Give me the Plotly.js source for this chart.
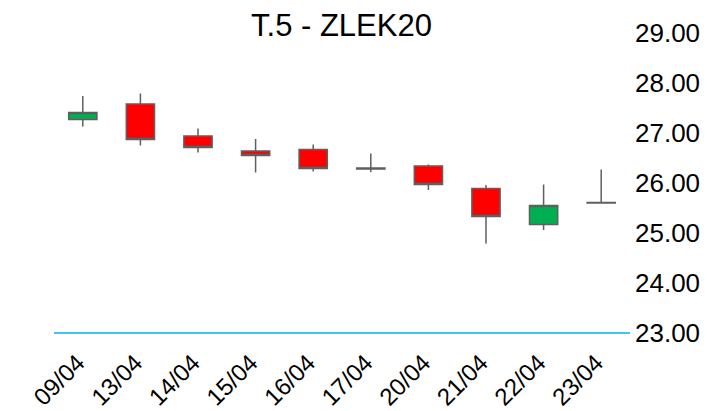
<!DOCTYPE html>
<html>
<head>
<meta charset="utf-8">
<script src="https://cdn.plot.ly/plotly-3.0.1.min.js"></script>
<style>html,body{margin:0;padding:0;background:#fff;}#chart{width:707px;height:411px;}</style>
</head>
<body>
<div id="chart"></div>
<script>
var dates = ['09/04','13/04','14/04','15/04','16/04','17/04','20/04','21/04','22/04','23/04'];
var openV  = [27.27, 27.58, 26.94, 26.64, 26.67, 26.30, 26.34, 25.89, 25.17, 25.61];
var highV  = [27.74, 27.79, 27.09, 26.88, 26.77, 26.59, 26.37, 25.96, 25.97, 26.27];
var lowV   = [27.13, 26.75, 26.61, 26.21, 26.23, 26.22, 25.86, 24.79, 25.06, 25.60];
var closeV = [27.41, 26.87, 26.71, 26.55, 26.29, 26.28, 25.97, 25.33, 25.55, 25.60];
var yTicks = [23, 24, 25, 26, 27, 28, 29];

var trace = {
  type: 'candlestick',
  x: dates, open: openV, high: highV, low: lowV, close: closeV,
  increasing: {fillcolor: '#00b050', line: {color: '#5f5f5f', width: 1.5}},
  decreasing: {fillcolor: '#ff0000', line: {color: '#5f5f5f', width: 1.5}},
  whiskerwidth: 0,
  hoverinfo: 'none'
};

var layout = {
  width: 707, height: 411,
  margin: {l: 54, r: 77, t: 33, b: 78},
  paper_bgcolor: '#ffffff', plot_bgcolor: '#ffffff',
  showlegend: false,
  font: {family: 'Liberation Sans, Arial, sans-serif', color: '#000000'},
  title: {text: 'T.5 - ZLEK20', font: {size: 31, color: '#000000'}, x: 0.483, xanchor: 'center', y: 0.94, yanchor: 'middle'},
  xaxis: {
    type: 'category',
    rangeslider: {visible: false},
    showgrid: false, zeroline: false,
    showline: false,
    tickangle: -45, tickfont: {size: 24, color: '#000000'},
    ticks: '', ticklabelstandoff: 10, ticklabelshift: -5
  },
  yaxis: {
    side: 'right', range: [23, 29],
    tickvals: yTicks, ticktext: yTicks.map(function(v){return v.toFixed(2);}),
    showgrid: false, zeroline: false, showline: false,
    tickfont: {size: 26, color: '#000000'},
    ticks: '', ticklabelstandoff: 4
  },
  shapes: [{
    type: 'line', xref: 'paper', yref: 'paper',
    x0: 0, x1: 1, y0: 0, y1: 0,
    line: {color: '#00b0f0', width: 1.5},
    layer: 'above'
  }]
};

Plotly.newPlot('chart', [trace], layout, {staticPlot: true, displayModeBar: false});
</script>
</body>
</html>
